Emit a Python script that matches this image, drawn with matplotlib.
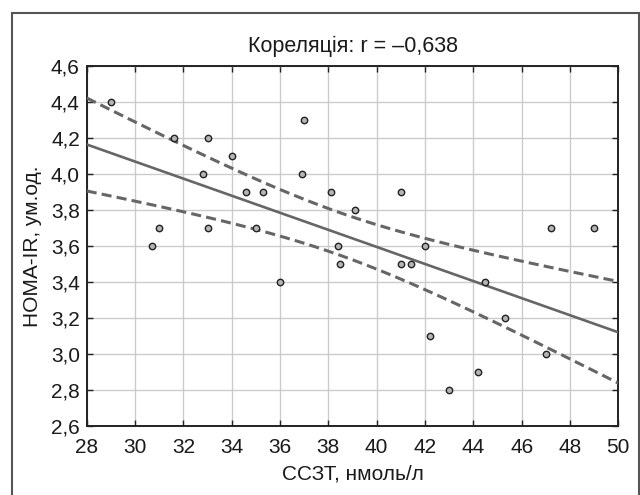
import matplotlib.pyplot as plt
import numpy as np
from matplotlib.patches import Rectangle
from matplotlib.ticker import FuncFormatter

plt.rcParams['font.family'] = ['Liberation Sans', 'DejaVu Sans']

# data
sszt = [29.0, 30.7, 31.0, 31.6, 32.8, 33.0, 33.0, 34.0, 34.6, 35.0,
        35.3, 36.0, 36.9, 37.0, 38.1, 38.4, 38.5, 39.1, 41.0, 41.0,
        41.4, 42.0, 42.2, 43.0, 44.2, 44.5, 45.3, 47.0, 47.2, 49.0]
homa = [4.4, 3.6, 3.7, 4.2, 4.0, 4.2, 3.7, 4.1, 3.9, 3.7,
        3.9, 3.4, 4.0, 4.3, 3.9, 3.6, 3.5, 3.8, 3.9, 3.5,
        3.5, 3.6, 3.1, 2.8, 2.9, 3.4, 3.2, 3.0, 3.7, 3.7]
x_ticks = list(range(28, 51, 2))
y_ticks = [2.6, 2.8, 3.0, 3.2, 3.4, 3.6, 3.8, 4.0, 4.2, 4.4, 4.6]

x = np.array(sszt)
y = np.array(homa)
n = len(x)

#linear fit and 95% confidence band of the mean
slope, intercept = np.polyfit(x, y, 1)
xs = np.linspace(28, 50, 200)
ys = intercept + slope * xs
resid = y - (intercept + slope * x)
s = np.sqrt(np.sum(resid**2) / (n - 2))
t_crit = 2.048  # t(0.975, df=28)
half = t_crit * s * np.sqrt(1/n + (xs - x.mean())**2 / np.sum((x - x.mean())**2))

fig = plt.figure(figsize=(6.4, 4.95), dpi=100)
ax = fig.add_axes([0.1355, 0.1384, 0.8306, 0.7276])

line_col = '#666666'
ax.plot(xs, ys, color=line_col, lw=1.9, zorder=3)
ax.plot(xs, ys + half, color=line_col, lw=2.2, dashes=(3.3, 1.7), zorder=3)
ax.plot(xs, ys - half, color=line_col, lw=2.2, dashes=(3.3, 1.7), zorder=3)
ax.plot(x, y, 'o', ms=4.6, mfc='#b4b4b4', mec='#222222', mew=1.0, zorder=4)

ax.set_xlim(28, 50)
ax.set_ylim(2.6, 4.6)
ax.set_xticks(x_ticks)
ax.set_yticks(y_ticks)
ax.yaxis.set_major_formatter(FuncFormatter(lambda v, p: f'{v:.1f}'.replace('.', ',')))
ax.grid(color='#cccccc', lw=1.0, zorder=0)
ax.set_axisbelow(True)
ax.tick_params(direction='in', top=True, right=True, length=4, width=1,
               labelsize=15, colors='#222222', labelcolor='#1a1a1a')
ax.tick_params(axis='x', pad=8)
ax.tick_params(axis='y', pad=5)
for sp in ax.spines.values():
    sp.set_linewidth(1.4)
    sp.set_color('#222222')

ax.set_title('Кореляція: r = –0,638', fontsize=15.5, pad=10, color='#1a1a1a')
ax.set_xlabel('ССЗТ, нмоль/л', fontsize=15, labelpad=5.5, color='#1a1a1a')
ax.set_ylabel('НОМА-IR, ум.од.', fontsize=15, labelpad=6, color='#1a1a1a')

#outer frame
fig.patches.append(Rectangle((0.019, -0.1), 0.979, 1.0747, transform=fig.transFigure,
                             fill=False, edgecolor='#555555', lw=1.5, clip_on=False))

fig.savefig('out.png', dpi=100)
